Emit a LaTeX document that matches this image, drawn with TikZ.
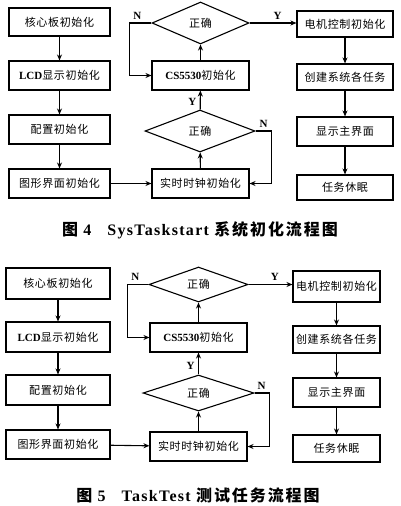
\documentclass[tikz,border=0pt]{standalone}
\usepackage{fontspec}
\setmainfont{Liberation Serif}
\newfontfamily\cjk{Noto Sans CJK SC}[LetterSpace=6]
\newfontfamily\capcjk{Noto Sans CJK SC}[LetterSpace=12]
\newfontfamily\caprm{Liberation Serif}[LetterSpace=8]
\usetikzlibrary{shapes.geometric,arrows.meta}
\begin{document}
\begin{tikzpicture}[x=1pt,y=-1pt,
box/.style={
rectangle,
draw,
line width=1.1pt,
inner sep=0pt,
font=\fontsize{11}{13}\selectfont\cjk
},
test/.style={
diamond,
draw,
line width=1.1pt,
inner sep=0pt,
font=\fontsize{11}{13}\selectfont\cjk
},
flow/.style={-{Stealth[length=6pt,width=5pt]},line width=1.1pt},
yn/.style={font=\fontsize{11}{13}\selectfont\bfseries},
caption/.style={font=\fontsize{16}{18}\selectfont\caprm\bfseries},
]
\useasboundingbox (0,0) rectangle (400,506);

% figure 4
\node (core4) [box,minimum width=101pt,minimum height=28pt] at (59.5,22) {核心板初始化};
\node (lcd4) [box,minimum width=101pt,minimum height=29pt] at (59.5,75.5) {{\rmfamily\bfseries LCD}显示初始化};
\node (conf4) [box,minimum width=101pt,minimum height=29pt] at (59.5,129.5) {配置初始化};
\node (gui4) [box,minimum width=101pt,minimum height=29pt] at (59.5,183.5) {图形界面初始化};
\node (test4) [test,minimum width=97pt,minimum height=42pt] at (200.5,23) {正确};
\node (cs4) [box,minimum width=97pt,minimum height=29pt] at (200.5,75.5) {{\rmfamily\bfseries CS5530}初始化};
\node (check4) [test,minimum width=110pt,minimum height=42pt] at (200,131) {正确};
\node (rtc4) [box,minimum width=97pt,minimum height=29pt] at (200.5,183.5) {实时时钟初始化};
\node (motor4) [box,minimum width=96pt,minimum height=26pt] at (345,24) {电机控制初始化};
\node (tasks4) [box,minimum width=96pt,minimum height=26pt] at (345,77) {创建系统各任务};
\node (menu4) [box,minimum width=96pt,minimum height=29pt] at (345,131.5) {显示主界面};
\node (sleep4) [box,minimum width=96pt,minimum height=25pt] at (345,187.5) {任务休眠};
\draw[flow] (core4) -- (lcd4);
\draw[flow] (lcd4) -- (conf4);
\draw[flow] (conf4) -- (gui4);
\draw[flow] (gui4) -- (rtc4);
\draw[flow] (rtc4) -- (check4);
\draw[flow] (check4) -- node[yn,left,pos=0.4] {Y} (cs4);
\draw[flow] (check4.east) -- ++(16,0) node[yn,above left] {N} |- (rtc4.east);
\draw[flow] (cs4) -- (test4);
\draw[flow] (test4.west) -- ++(-22,0) node[yn,above right] {N} |- (cs4.west);
\draw[flow] (test4.east) -- node[yn,above,pos=0.6] {Y} (test4.east -| motor4.west);
\draw[flow] (motor4) -- (tasks4);
\draw[flow] (tasks4) -- (menu4);
\draw[flow] (menu4) -- (sleep4);
\node (cap4) [caption] at (200,230) {{\capcjk 图} 4\quad SysTaskstart {\capcjk 系统初化流程图}};

% figure 5
\node (core5) [box,minimum width=104pt,minimum height=31pt] at (58,283.5) {核心板初始化};
\node (lcd5) [box,minimum width=104pt,minimum height=30pt] at (58,337) {{\rmfamily\bfseries LCD}显示初始化};
\node (conf5) [box,minimum width=104pt,minimum height=30pt] at (58,390) {配置初始化};
\node (gui5) [box,minimum width=104pt,minimum height=29pt] at (58,444.5) {图形界面初始化};
\node (test5) [test,minimum width=99pt,minimum height=35pt] at (198.5,284.5) {正确};
\node (cs5) [box,minimum width=97pt,minimum height=29pt] at (198.5,337.5) {{\rmfamily\bfseries CS5530}初始化};
\node (check5) [test,minimum width=111pt,minimum height=36pt] at (198.5,393) {正确};
\node (rtc5) [box,minimum width=97pt,minimum height=29pt] at (198.5,446.5) {实时时钟初始化};
\node (motor5) [box,minimum width=87pt,minimum height=31pt] at (336.5,286.5) {电机控制初始化};
\node (tasks5) [box,minimum width=87pt,minimum height=27pt] at (336.5,339.5) {创建系统各任务};
\node (menu5) [box,minimum width=87pt,minimum height=29pt] at (336.5,392.5) {显示主界面};
\node (sleep5) [box,minimum width=87pt,minimum height=27pt] at (336.5,448.5) {任务休眠};
\draw[flow] (core5) -- (lcd5);
\draw[flow] (lcd5) -- (conf5);
\draw[flow] (conf5) -- (gui5);
\draw[flow] (gui5) -- (rtc5);
\draw[flow] (rtc5) -- (check5);
\draw[flow] (check5) -- node[yn,left,pos=0.4] {Y} (cs5);
\draw[flow] (check5.east) -- ++(15,0) node[yn,above left] {N} |- (rtc5.east);
\draw[flow] (cs5) -- (test5);
\draw[flow] (test5.west) -- ++(-21,0) node[yn,above right] {N} |- (cs5.west);
\draw[flow] (test5.east) -- node[yn,above,pos=0.6] {Y} (test5.east -| motor5.west);
\draw[flow] (motor5) -- (tasks5);
\draw[flow] (tasks5) -- (menu5);
\draw[flow] (menu5) -- (sleep5);
\node (cap5) [caption] at (198,495) {{\capcjk 图} 5\quad TaskTest {\capcjk 测试任务流程图}};
\end{tikzpicture}
\end{document}
